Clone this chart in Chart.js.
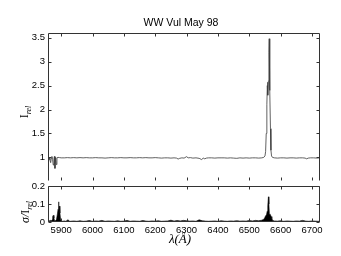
<!DOCTYPE html>
<html><head><meta charset="utf-8">
<script src="https://cdn.jsdelivr.net/npm/chart.js@4/dist/chart.umd.min.js"></script>
<style>
html,body{margin:0;padding:0;background:#fff;}
#wrap{position:relative;width:341px;height:256px;}
#top{position:absolute;left:0;top:0;z-index:1;}
#bot{position:absolute;left:0;top:176px;z-index:2;}
</style></head>
<body>
<div id="wrap"><canvas id="top" width="341" height="190"></canvas><canvas id="bot" width="341" height="80"></canvas></div>
<script>
const titleText = "WW Vul May 98";
const xTicks = [5900,6000,6100,6200,6300,6400,6500,6600,6700];
const yTopTicks = [1,1.5,2,2.5,3,3.5];
const yBotTicks = [0,0.1,0.2];

const specLam = [
 5859,5862,5864,5866.5,5868.5,5870.5,5872.5,5874.8,5877,5878.5,
 5880.2,5882.3,5884.4,5886.5,5890,5895,5900,5910,5920,5930,
 5940,5950,5960,5970,5980,5990,6000,6010,6020,6030,
 6040,6050,6060,6070,6080,6090,6100,6110,6120,6130,
 6140,6150,6160,6170,6180,6190,6200,6210,6220,6230,
 6240,6250,6260,6268,6273,6278,6285,6292,6300,6305,
 6312,6320,6330,6340,6348,6353,6358,6363,6370,6380,
 6390,6400,6410,6420,6430,6440,6450,6460,6470,6480,
 6490,6500,6510,6520,6530,6540,6546,6550,6552,6554,
 6556,6557.5,6558.5,6559.5,6561,6562.5,6563.5,6564.5,6566,6567.5,
 6569,6571,6574,6580,6590,6600,6610,6620,6630,6640,
 6650,6660,6670,6678,6683,6688,6695,6705,6715,6725];
const specI = [
 1.00,0.99,0.95,0.89,0.98,1.02,0.96,0.84,0.97,1.02,
 0.77,1.00,0.85,0.99,1.00,0.995,0.99,0.99,0.995,0.99,
 0.995,0.99,0.995,0.99,0.995,0.99,0.99,0.995,0.99,0.99,
 0.985,0.99,0.995,0.99,0.99,0.995,0.99,0.99,0.995,0.99,
 0.99,0.995,0.99,0.995,0.99,0.99,0.995,0.99,0.985,0.99,
 0.99,0.985,0.99,0.985,0.965,0.98,0.99,0.985,1.015,0.99,
 0.995,0.985,0.99,0.98,0.955,0.985,0.97,0.985,0.99,0.99,
 0.985,0.99,0.99,0.99,0.985,0.99,0.985,0.98,0.99,0.985,
 0.99,0.985,0.99,0.99,0.985,0.99,1.00,1.03,1.12,1.50,
 2.10,2.50,2.57,2.30,2.60,3.20,3.48,3.20,2.40,1.60,
 1.15,1.03,1.00,0.99,0.985,0.99,0.99,0.985,0.99,0.99,
 0.985,0.99,0.99,0.985,0.97,0.985,0.99,0.99,0.985,0.99];

const sigLam = [
 5859,5862,5865,5868,5871,5873,5875,5877,5879,5882,
 5885,5888,5890,5891.5,5893,5894.5,5896,5898,5900,5905,
 5910,5915,5920,5922,5925,5930,5940,5950,5960,5970,
 5980,5990,6000,6010,6020,6030,6040,6050,6060,6070,
 6080,6090,6100,6110,6120,6130,6140,6150,6160,6170,
 6180,6190,6200,6210,6220,6230,6240,6250,6260,6270,
 6280,6290,6300,6310,6320,6330,6340,6350,6360,6370,
 6380,6390,6400,6410,6420,6430,6440,6450,6460,6470,
 6480,6490,6500,6510,6520,6530,6540,6545,6549,6552,
 6555,6557,6559,6561,6562.5,6564,6566,6568,6570,6572,
 6575,6580,6590,6600,6610,6620,6630,6640,6650,6660,
 6670,6680,6690,6700,6710,6720,6725];
const sigVal = [
 0.004,0.006,0.010,0.005,0.012,0.030,0.037,0.022,0.005,0.008,
 0.012,0.045,0.070,0.112,0.060,0.088,0.050,0.015,0.006,0.004,
 0.006,0.004,0.010,0.013,0.005,0.004,0.006,0.004,0.007,0.004,
 0.005,0.008,0.004,0.006,0.005,0.009,0.004,0.006,0.005,0.004,
 0.007,0.004,0.005,0.009,0.004,0.006,0.005,0.004,0.008,0.005,
 0.004,0.006,0.005,0.007,0.004,0.005,0.006,0.010,0.005,0.008,
 0.006,0.009,0.007,0.005,0.006,0.004,0.012,0.007,0.005,0.004,
 0.005,0.006,0.004,0.007,0.005,0.004,0.006,0.005,0.007,0.005,
 0.006,0.005,0.008,0.006,0.009,0.007,0.010,0.014,0.022,0.035,
 0.040,0.060,0.090,0.140,0.100,0.045,0.040,0.038,0.030,0.018,
 0.008,0.006,0.005,0.007,0.004,0.006,0.005,0.004,0.006,0.005,
 0.009,0.005,0.004,0.006,0.005,0.004,0.005];

const X_MIN = 5858, X_MAX = 6725.5;
const AX = '#333';
const SANS = '"Liberation Sans", Arial, sans-serif';
const SERIF = '"Liberation Serif", "DejaVu Serif", serif';

function line(ctx,x1,y1,x2,y2){ctx.beginPath();ctx.moveTo(x1,y1);ctx.lineTo(x2,y2);ctx.stroke();}

function makeFrame(kind, yt){
  return {
    id:'frame_' + kind,
    afterDraw(chart){
      const {ctx, chartArea:a} = chart;
      const x = chart.scales.x, y = chart.scales.y;
      ctx.save();
      ctx.strokeStyle = AX; ctx.lineWidth = 1;
      const L = Math.round(a.left)+0.5, R = Math.round(a.right)-0.5;
      const T = Math.round(a.top)+0.5, B = Math.round(a.bottom)-0.5;
      line(ctx, L, T, R, T); line(ctx, L, T, L, B); line(ctx, R, T, R, B);
      if (kind === 'bot') line(ctx, L, B, R, B);
      const len = 3;
      xTicks.forEach(v=>{
        const px = Math.round(x.getPixelForValue(v))+0.5;
        line(ctx,px,B,px,B-len); line(ctx,px,T,px,T+len);
      });
      yt.forEach(v=>{
        const py = Math.round(y.getPixelForValue(v))+0.5;
        line(ctx,L,py,L+len,py); line(ctx,R,py,R-len,py);
      });
      ctx.fillStyle = '#000';
      if (kind === 'top') {
        ctx.font = '10.5px ' + SANS; ctx.textAlign='center'; ctx.textBaseline='middle';
        ctx.fillText(titleText, 181, 23);
        ctx.save(); ctx.translate(24, 112); ctx.rotate(-Math.PI/2);
        ctx.textBaseline='alphabetic'; ctx.textAlign='left';
        ctx.font = '12px ' + SERIF; const w1 = ctx.measureText('I').width;
        ctx.font = 'italic 8px ' + SERIF; const w2 = ctx.measureText('rel').width;
        const sx = -(w1+w2)/2;
        ctx.font = '12px ' + SERIF; ctx.fillText('I', sx, 4);
        ctx.font = 'italic 8px ' + SERIF; ctx.fillText('rel', sx+w1, 6.5);
        ctx.restore();
      } else {
        // y tick labels of the lower panel, placed from the library's scale
        ctx.font = '9.5px ' + SANS; ctx.textAlign='right'; ctx.textBaseline='middle';
        yt.forEach(v=>{ ctx.fillText(String(v), a.left-3, y.getPixelForValue(v)); });
        ctx.save(); ctx.translate(25, 36); ctx.rotate(-Math.PI/2);
        ctx.textBaseline='alphabetic'; ctx.textAlign='left';
        ctx.font = 'italic 12px ' + SERIF; const a1 = ctx.measureText('σ/').width;
        ctx.font = '12px ' + SERIF; const a2 = ctx.measureText('I').width;
        ctx.font = 'italic 8px ' + SERIF; const a3 = ctx.measureText('rel').width;
        let sx = -(a1+a2+a3)/2;
        ctx.font = 'italic 12px ' + SERIF; ctx.fillText('σ/', sx, 4); sx += a1;
        ctx.font = '12px ' + SERIF; ctx.fillText('I', sx, 4); sx += a2;
        ctx.font = 'italic 8px ' + SERIF; ctx.fillText('rel', sx, 6.5);
        ctx.restore();
        ctx.font = 'italic 13px ' + SERIF; ctx.textAlign='center'; ctx.textBaseline='middle';
        ctx.fillText('λ(Å)', 180, 64);
      }
      ctx.restore();
    }
  };
}

function pts(xs, ys){ return xs.map((v,i)=>({x:v, y:ys[i]})); }

const tickFont = {family: SANS, size: 9.5};

new Chart(document.getElementById('top'), {
  type:'line',
  data:{datasets:[{data:pts(specLam, specI), borderColor:'#3a3a3a', borderWidth:0.8, pointRadius:0, tension:0, fill:false}]},
  options:{
    responsive:false, animation:false, devicePixelRatio:1,
    layout:{padding:{left:0, top:33, right:21, bottom:4}},
    plugins:{legend:{display:false}, tooltip:{enabled:false}},
    scales:{
      x:{type:'linear', min:X_MIN, max:X_MAX, grid:{display:false, drawTicks:false}, border:{display:false},
         ticks:{display:false}, afterFit(s){s.height=0;}, afterBuildTicks(s){s.ticks = xTicks.map(v=>({value:v}));}},
      y:{type:'linear', min:0.5, max:3.6, grid:{display:false, drawTicks:false}, border:{display:false},
         ticks:{color:'#000', font:tickFont, padding:3, autoSkip:false, callback:v=>String(v)},
         afterBuildTicks(s){s.ticks = yTopTicks.map(v=>({value:v}));}, afterFit(s){s.width=48;}}
    }
  },
  plugins:[makeFrame('top', yTopTicks)]
});

new Chart(document.getElementById('bot'), {
  type:'line',
  data:{datasets:[{data:pts(sigLam, sigVal), borderColor:'#000', backgroundColor:'#000', borderWidth:0.6, pointRadius:0, tension:0, fill:'origin'}]},
  options:{
    responsive:false, animation:false, devicePixelRatio:1,
    layout:{padding:{left:0, top:10, right:21, bottom:0}},
    plugins:{legend:{display:false}, tooltip:{enabled:false}},
    scales:{
      x:{type:'linear', min:X_MIN, max:X_MAX, grid:{display:false, drawTicks:false}, border:{display:false},
         ticks:{color:'#000', font:tickFont, padding:3, maxRotation:0, autoSkip:false, callback:v=>String(v)},
         afterBuildTicks(s){s.ticks = xTicks.map(v=>({value:v}));}, afterFit(s){s.height=34;}},
      y:{type:'linear', min:0, max:0.2, grid:{display:false, drawTicks:false}, border:{display:false},
         ticks:{display:false},
         afterBuildTicks(s){s.ticks = yBotTicks.map(v=>({value:v}));}, afterFit(s){s.width=48;}}
    }
  },
  plugins:[makeFrame('bot', yBotTicks)]
});
</script>
</body></html>
